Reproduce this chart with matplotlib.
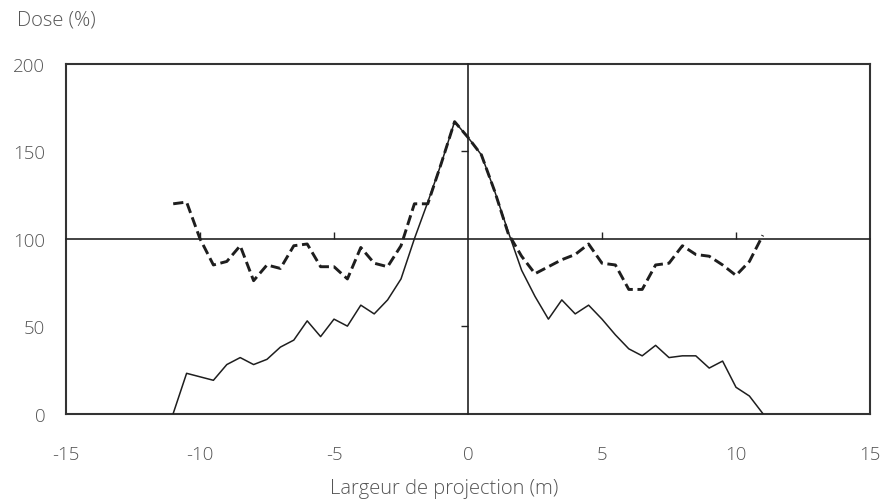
import matplotlib
matplotlib.use("Agg")
import matplotlib.pyplot as plt

# Lateral position across the projection width (m)
positions = [-11, -10.5, -10, -9.5, -9, -8.5, -8, -7.5, -7, -6.5, -6, -5.5,
             -5, -4.5, -4, -3.5, -3, -2.5, -2, -1.5, -1, -0.5, 0, 0.5, 1,
             1.5, 2, 2.5, 3, 3.5, 4, 4.5, 5, 5.5, 6, 6.5, 7, 7.5, 8, 8.5,
             9, 9.5, 10, 10.5, 11]

# Single pass dose profile (%)
dose_single = [0, 23, 21, 19, 28, 32, 28, 31, 38, 42, 53, 44,
               54, 50, 62, 57, 65, 77, 100, 121, 143, 167, 158, 148, 127,
               104, 82, 67, 54, 65, 57, 62, 54, 45, 37, 33, 39, 32, 33, 33,
               26, 30, 15, 10, 0]

# Overlapping passes dose profile (%)
dose_overlap = [120, 121, 100, 85, 87, 96, 76, 85, 83, 96, 97, 84,
                84, 77, 95, 86, 84, 96, 120, 120, 143, 167, 158, 148, 127,
                103, 90, 80, 84, 88, 91, 97, 86, 85, 71, 71, 85, 86, 96, 91,
                90, 85, 79, 87, 102]

x_ticks = [-15, -10, -5, 0, 5, 10, 15]
y_ticks = [0, 50, 100, 150, 200]
cross_x_ticks = [-10, -5, 5, 10]
cross_y_ticks = [50, 150]

label_font = "Open Sans"
text_color = "#555555"
frame_color = "#333333"

fig = plt.figure(figsize=(8.83, 5.02), dpi=100)
fig.patch.set_facecolor("white")
rect = [66 / 883, 1 - 414.5 / 502, (870 - 66) / 883, (414.5 - 65) / 502]
ax = fig.add_axes(rect)

ax.set_xlim(-15, 15)
ax.set_ylim(0, 200)
ax.set_xticks(x_ticks)
ax.set_yticks(y_ticks)
ax.set_xticklabels([str(t) for t in x_ticks], fontfamily=label_font,
                   fontsize=13.5, color=text_color, fontweight="light")
ax.set_yticklabels([str(t) for t in y_ticks], fontfamily=label_font,
                   fontsize=13.5, color=text_color, fontweight="light")
ax.tick_params(axis="x", length=0, pad=23)
ax.tick_params(axis="y", length=0, pad=15)
for sp in ax.spines.values():
    sp.set_color(frame_color)
    sp.set_linewidth(1.5)

# Crossing axes at x = 0 and dose = 100 %, with their own tick marks
cross = fig.add_axes(rect)
cross.set_xlim(-15, 15)
cross.set_ylim(0, 200)
cross.patch.set_alpha(0)
for name in ("top", "right"):
    cross.spines[name].set_visible(False)
cross.spines["left"].set_position(("data", 0))
cross.spines["bottom"].set_position(("data", 100))
for name in ("left", "bottom"):
    cross.spines[name].set_color("#222222")
    cross.spines[name].set_linewidth(1.2)
cross.xaxis.set_ticks_position("bottom")
cross.yaxis.set_ticks_position("left")
cross.set_xticks(cross_x_ticks)
cross.set_yticks(cross_y_ticks)
cross.tick_params(axis="x", direction="in", length=5, width=1.0,
                  color="#222222", labelbottom=False)
cross.tick_params(axis="y", direction="out", length=5, width=1.0,
                  color="#222222", labelleft=False)

ax.plot(positions, dose_single, color="#1e1e1e", linewidth=1.1, zorder=3)
ax.plot(positions, dose_overlap, color="#1e1e1e", linewidth=2.1,
        dashes=(3.5, 1.6), zorder=3)

fig.text(17 / 883, 1 - 21 / 502, "Dose (%)", fontfamily=label_font,
         fontsize=14.5, color=text_color, fontweight="light",
         ha="left", va="center")
fig.text(444 / 883, 1 - 489 / 502, "Largeur de projection (m)",
         fontfamily=label_font, fontsize=14.5, color=text_color,
         fontweight="light", ha="center", va="center")

fig.savefig("out.png", dpi=100, facecolor="white")
